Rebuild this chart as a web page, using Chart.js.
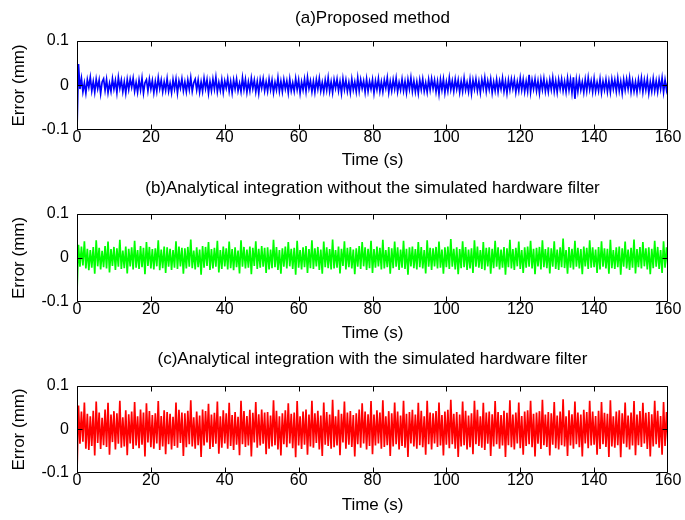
<!DOCTYPE html>
<html>
<head>
	<title>Error comparison</title>
	<meta charset="utf-8" />
	<!-- Chart.js -->
	<script src="https://cdn.jsdelivr.net/npm/chart.js@4.4.1/dist/chart.umd.min.js"></script>
	<style>
		body { margin: 0; background: #fff; }
		#parent { position: relative; width: 685px; height: 520px; }
		canvas { position: absolute; left: 0; }
	</style>
</head>
<body>

<div id="parent">
	<canvas id="chartA" width="685" height="173" style="top:0px"></canvas>
	<canvas id="chartB" width="685" height="173" style="top:173px"></canvas>
	<canvas id="chartC" width="685" height="173" style="top:345px"></canvas>
</div>

<script type="text/javascript">
// sample spacing of the error records (s)
var SAMPLE_DT = 0.4;

var xTicks = [0, 20, 40, 60, 80, 100, 120, 140, 160];
var yTicks = [-0.1, 0, 0.1];

var titles = [
	'(a)Proposed method',
	'(b)Analytical integration without the simulated hardware filter',
	'(c)Analytical integration with the simulated hardware filter'
];

// (a) proposed method, error in mm
var errProposed = [
	-0.100, 0.048, -0.008, 0.016, -0.014, 0.006, -0.017, 0.013, -0.004, 0.018, -0.012, 0.009, -0.015, 0.014, -0.007, 0.012, -0.018, 0.008, 0.015, -0.011,
	0.013, -0.016, 0.005, -0.013, 0.015, -0.008, 0.011, -0.016, 0.018, -0.006, 0.012, -0.014, 0.008, -0.017, 0.013, -0.009, 0.014, -0.004, 0.016, -0.013,
	0.007, -0.015, 0.012, -0.010, 0.016, -0.017, 0.006, 0.013, -0.012, 0.014, -0.008, 0.011, -0.016, 0.009, -0.013, 0.017, -0.007, 0.012, -0.014, 0.008,
	-0.011, 0.015, -0.013, 0.005, -0.016, 0.013, -0.008, 0.014, -0.017, 0.010, -0.006, 0.015, -0.012, 0.008, -0.014, 0.012, -0.009, 0.017, -0.013, 0.006,
	0.014, -0.010, 0.012, -0.015, 0.008, -0.013, 0.016, -0.007, 0.013, -0.017, 0.009, -0.012, 0.014, -0.008, 0.018, -0.014, 0.007, -0.011, 0.013, -0.015,
	0.010, -0.006, 0.015, -0.013, 0.009, -0.016, 0.012, -0.008, 0.014, -0.012, 0.005, -0.014, 0.017, -0.009, 0.013, -0.015, 0.008, -0.012, 0.016, -0.007,
	0.012, -0.014, 0.009, -0.017, 0.013, -0.006, 0.015, -0.012, 0.008, -0.013, 0.014, -0.009, 0.012, -0.016, 0.007, -0.010, 0.017, -0.013, 0.009, -0.014,
	0.013, -0.008, 0.010, -0.016, 0.014, -0.012, 0.006, -0.013, 0.015, -0.009, 0.012, -0.017, 0.008, -0.010, 0.014, -0.013, 0.018, -0.007, 0.010, -0.014,
	0.009, -0.015, 0.013, -0.008, 0.016, -0.012, 0.007, -0.014, 0.012, -0.010, 0.017, -0.013, 0.008, -0.016, 0.013, -0.006, 0.014, -0.012, 0.009, -0.017,
	0.015, -0.009, 0.012, -0.013, 0.007, -0.016, 0.014, -0.010, 0.008, -0.014, 0.017, -0.012, 0.013, -0.007, 0.010, -0.015, 0.014, -0.013, 0.009, -0.008,
	0.013, -0.017, 0.010, -0.009, 0.015, -0.013, 0.008, -0.014, 0.012, -0.006, 0.017, -0.015, 0.009, -0.012, 0.013, -0.008, 0.016, -0.014, 0.007, -0.010,
	0.014, -0.012, 0.009, -0.016, 0.013, -0.008, 0.017, -0.013, 0.010, -0.014, 0.008, -0.017, 0.012, -0.009, 0.014, -0.013, 0.006, -0.015, 0.013, -0.010,
	0.015, -0.007, 0.012, -0.014, 0.009, -0.019, 0.013, -0.010, 0.014, -0.016, 0.008, -0.012, 0.017, -0.009, 0.010, -0.013, 0.014, -0.008, 0.012, -0.015,
	0.009, -0.013, 0.016, -0.010, 0.007, -0.014, 0.013, -0.017, 0.012, -0.008, 0.014, -0.012, 0.009, -0.016, 0.013, -0.007, 0.017, -0.013, 0.010, -0.009,
	0.014, -0.016, 0.008, -0.012, 0.013, -0.014, 0.010, -0.008, 0.016, -0.013, 0.009, -0.017, 0.012, -0.010, 0.014, -0.007, 0.013, -0.015, 0.008, -0.012,
	0.016, -0.010, 0.013, -0.014, 0.009, -0.013, 0.024, -0.015, 0.012, -0.008, 0.014, -0.012, 0.010, -0.017, 0.013, -0.009, 0.015, -0.013, 0.008, -0.014,
	0.012, -0.009, 0.017, -0.013, 0.010, -0.015, 0.013, -0.008, 0.014, -0.012, 0.009, -0.014, 0.016, -0.010, 0.013, -0.016, 0.018, -0.030, 0.012, -0.013,
	0.014, -0.010, 0.008, -0.015, 0.013, -0.012, 0.017, -0.009, 0.010, -0.014, 0.015, -0.013, 0.007, -0.012, 0.014, -0.016, 0.009, -0.010, 0.013, -0.014,
	0.010, -0.015, 0.014, -0.008, 0.012, -0.013, 0.016, -0.012, 0.009, -0.017, 0.013, -0.010, 0.014, -0.008, 0.017, -0.014, 0.010, -0.013, 0.008, -0.015,
	0.013, -0.009, 0.016, -0.014, 0.012, -0.010, 0.014, -0.017, 0.008, -0.013, 0.015, -0.012, 0.010, -0.014, 0.013, -0.008, 0.017, -0.015, 0.012, -0.010, 0.009
];

// (b) analytical integration, no hardware filter
var errNoFilter = [
	-0.078, 0.030, -0.020, 0.026, -0.017, 0.038, -0.024, 0.021, -0.028, 0.018, -0.022, 0.025, -0.036, 0.040, -0.019, 0.023, -0.026, 0.016, -0.021, 0.027,
	-0.024, 0.037, -0.033, 0.020, -0.018, 0.025, -0.027, 0.022, -0.020, 0.041, -0.025, 0.017, -0.023, 0.026, -0.035, 0.021, -0.019, 0.024, -0.026, 0.039,
	-0.022, 0.018, -0.025, 0.027, -0.021, 0.023, -0.037, 0.036, -0.018, 0.025, -0.024, 0.020, -0.026, 0.022, -0.019, 0.040, -0.028, 0.019, -0.023, 0.026,
	-0.034, 0.024, -0.020, 0.021, -0.027, 0.018, -0.022, 0.038, -0.025, 0.026, -0.019, 0.023, -0.036, 0.022, -0.024, 0.025, -0.020, 0.042, -0.023, 0.017,
	-0.026, 0.024, -0.021, 0.019, -0.038, 0.027, -0.022, 0.025, -0.018, 0.036, -0.027, 0.020, -0.024, 0.023, -0.020, 0.039, -0.033, 0.018, -0.025, 0.026,
	-0.019, 0.022, -0.026, 0.037, -0.023, 0.020, -0.028, 0.024, -0.021, 0.017, -0.035, 0.040, -0.020, 0.025, -0.024, 0.019, -0.022, 0.026, -0.037, 0.023,
	-0.018, 0.038, -0.025, 0.021, -0.022, 0.027, -0.020, 0.023, -0.034, 0.024, -0.026, 0.019, -0.023, 0.041, -0.021, 0.025, -0.027, 0.018, -0.036, 0.022,
	-0.020, 0.026, -0.024, 0.036, -0.019, 0.021, -0.025, 0.023, -0.038, 0.039, -0.022, 0.018, -0.026, 0.024, -0.021, 0.027, -0.034, 0.020, -0.023, 0.040,
	-0.025, 0.022, -0.019, 0.025, -0.027, 0.019, -0.036, 0.037, -0.021, 0.024, -0.023, 0.020, -0.026, 0.042, -0.024, 0.018, -0.022, 0.026, -0.035, 0.021,
	-0.018, 0.038, -0.026, 0.023, -0.021, 0.025, -0.024, 0.019, -0.037, 0.022, -0.020, 0.027, -0.025, 0.036, -0.019, 0.024, -0.027, 0.021, -0.023, 0.039,
	-0.034, 0.020, -0.022, 0.026, -0.019, 0.023, -0.026, 0.041, -0.024, 0.018, -0.021, 0.025, -0.036, 0.022, -0.023, 0.037, -0.020, 0.024, -0.027, 0.019,
	-0.022, 0.039, -0.025, 0.021, -0.038, 0.024, -0.019, 0.026, -0.023, 0.020, -0.026, 0.036, -0.021, 0.025, -0.024, 0.018, -0.035, 0.040, -0.020, 0.023,
	-0.027, 0.022, -0.019, 0.025, -0.024, 0.037, -0.022, 0.019, -0.036, 0.024, -0.021, 0.026, -0.025, 0.043, -0.020, 0.021, -0.026, 0.024, -0.037, 0.020,
	-0.023, 0.038, -0.021, 0.025, -0.027, 0.019, -0.024, 0.022, -0.034, 0.040, -0.020, 0.026, -0.022, 0.018, -0.025, 0.036, -0.028, 0.023, -0.019, 0.024,
	-0.036, 0.021, -0.023, 0.039, -0.020, 0.024, -0.026, 0.019, -0.022, 0.025, -0.038, 0.022, -0.021, 0.041, -0.024, 0.020, -0.027, 0.023, -0.019, 0.037,
	-0.025, 0.018, -0.034, 0.024, -0.022, 0.026, -0.020, 0.039, -0.024, 0.021, -0.037, 0.023, -0.019, 0.025, -0.026, 0.040, -0.021, 0.020, -0.023, 0.024,
	-0.035, 0.022, -0.020, 0.038, -0.025, 0.019, -0.027, 0.024, -0.021, 0.044, -0.023, 0.018, -0.036, 0.025, -0.022, 0.021, -0.026, 0.039, -0.020, 0.023,
	-0.024, 0.020, -0.037, 0.026, -0.019, 0.023, -0.025, 0.040, -0.022, 0.024, -0.021, 0.019, -0.034, 0.025, -0.026, 0.038, -0.020, 0.022, -0.024, 0.021,
	-0.036, 0.041, -0.023, 0.018, -0.025, 0.024, -0.021, 0.026, -0.038, 0.022, -0.020, 0.037, -0.024, 0.019, -0.027, 0.023, -0.022, 0.042, -0.035, 0.020,
	-0.021, 0.025, -0.024, 0.036, -0.019, 0.022, -0.026, 0.024, -0.037, 0.021, -0.023, 0.039, -0.020, 0.025, -0.025, 0.018, -0.034, 0.038, -0.022, 0.024, -0.020
];

// (c) analytical integration, with hardware filter
var errFilter = [
	-0.100, 0.055, -0.033, 0.041, -0.028, 0.062, -0.044, 0.036, -0.047, 0.030, -0.038, 0.043, -0.060, 0.064, -0.031, 0.039, -0.045, 0.027, -0.036, 0.046,
	-0.040, 0.061, -0.058, 0.034, -0.029, 0.042, -0.046, 0.037, -0.033, 0.066, -0.042, 0.028, -0.039, 0.044, -0.059, 0.035, -0.032, 0.041, -0.045, 0.063,
	-0.037, 0.030, -0.043, 0.046, -0.035, 0.039, -0.062, 0.060, -0.030, 0.042, -0.041, 0.033, -0.044, 0.037, -0.032, 0.065, -0.047, 0.031, -0.039, 0.044,
	-0.057, 0.040, -0.034, 0.036, -0.046, 0.029, -0.038, 0.062, -0.042, 0.045, -0.031, 0.039, -0.061, 0.037, -0.041, 0.043, -0.034, 0.067, -0.039, 0.028,
	-0.044, 0.041, -0.036, 0.032, -0.063, 0.046, -0.037, 0.042, -0.030, 0.059, -0.045, 0.034, -0.040, 0.038, -0.033, 0.064, -0.056, 0.030, -0.042, 0.044,
	-0.032, 0.037, -0.044, 0.061, -0.038, 0.033, -0.047, 0.040, -0.035, 0.029, -0.059, 0.066, -0.034, 0.042, -0.040, 0.031, -0.037, 0.045, -0.062, 0.038,
	-0.030, 0.063, -0.042, 0.035, -0.037, 0.046, -0.033, 0.039, -0.057, 0.040, -0.044, 0.032, -0.039, 0.067, -0.036, 0.043, -0.046, 0.030, -0.060, 0.037,
	-0.034, 0.044, -0.041, 0.060, -0.032, 0.036, -0.043, 0.039, -0.064, 0.065, -0.037, 0.030, -0.045, 0.041, -0.035, 0.046, -0.058, 0.034, -0.039, 0.066,
	-0.042, 0.037, -0.031, 0.043, -0.046, 0.032, -0.061, 0.062, -0.035, 0.040, -0.038, 0.034, -0.044, 0.068, -0.041, 0.030, -0.037, 0.045, -0.059, 0.036,
	-0.030, 0.064, -0.044, 0.039, -0.035, 0.042, -0.040, 0.033, -0.062, 0.037, -0.034, 0.046, -0.042, 0.060, -0.032, 0.041, -0.046, 0.035, -0.038, 0.065,
	-0.057, 0.034, -0.037, 0.044, -0.032, 0.039, -0.044, 0.067, -0.040, 0.030, -0.036, 0.042, -0.061, 0.037, -0.039, 0.062, -0.034, 0.041, -0.046, 0.032,
	-0.038, 0.066, -0.042, 0.036, -0.063, 0.040, -0.032, 0.045, -0.039, 0.034, -0.044, 0.061, -0.036, 0.043, -0.041, 0.030, -0.058, 0.066, -0.034, 0.039,
	-0.046, 0.037, -0.032, 0.042, -0.040, 0.062, -0.037, 0.033, -0.060, 0.041, -0.035, 0.045, -0.043, 0.068, -0.034, 0.036, -0.044, 0.040, -0.063, 0.034,
	-0.039, 0.064, -0.036, 0.043, -0.046, 0.032, -0.041, 0.037, -0.057, 0.066, -0.034, 0.045, -0.038, 0.030, -0.042, 0.061, -0.047, 0.039, -0.033, 0.041,
	-0.061, 0.035, -0.039, 0.065, -0.034, 0.040, -0.044, 0.033, -0.037, 0.043, -0.063, 0.038, -0.036, 0.067, -0.041, 0.034, -0.046, 0.039, -0.032, 0.062,
	-0.043, 0.031, -0.058, 0.041, -0.038, 0.044, -0.034, 0.066, -0.041, 0.036, -0.062, 0.039, -0.033, 0.042, -0.045, 0.068, -0.036, 0.034, -0.040, 0.040,
	-0.060, 0.037, -0.035, 0.063, -0.043, 0.032, -0.046, 0.041, -0.036, 0.069, -0.039, 0.030, -0.061, 0.044, -0.037, 0.035, -0.044, 0.064, -0.034, 0.039,
	-0.041, 0.034, -0.062, 0.045, -0.032, 0.040, -0.043, 0.066, -0.037, 0.041, -0.035, 0.031, -0.058, 0.043, -0.045, 0.063, -0.034, 0.038, -0.040, 0.036,
	-0.063, 0.067, -0.039, 0.030, -0.042, 0.041, -0.036, 0.044, -0.064, 0.037, -0.033, 0.062, -0.041, 0.032, -0.046, 0.039, -0.037, 0.065, -0.059, 0.034,
	-0.036, 0.042, -0.040, 0.061, -0.032, 0.038, -0.045, 0.040, -0.062, 0.035, -0.039, 0.066, -0.034, 0.043, -0.042, 0.031, -0.058, 0.063, -0.038, 0.040, -0.035
];

var FONT = 'Liberation Sans, Arial, Helvetica, sans-serif';

// box round the axes plus inward tick marks (matlab look)
var matlabBox = {
	id: 'matlabBox',
	afterDraw: function (chart) {
		var ctx = chart.ctx, a = chart.chartArea;
		var xs = chart.scales.x, ys = chart.scales.y;
		var L = Math.round(a.left) + 0.5, R = Math.round(a.right) - 0.5;
		var T = Math.round(a.top) + 0.5, B = Math.round(a.bottom) - 0.5;
		ctx.save();
		ctx.strokeStyle = '#000';
		ctx.lineWidth = 1;
		ctx.beginPath();
		ctx.moveTo(L, T); ctx.lineTo(R, T);
		ctx.moveTo(R, T); ctx.lineTo(R, B);
		ctx.moveTo(R, B); ctx.lineTo(L, B);
		ctx.moveTo(L, B); ctx.lineTo(L, T);
		xTicks.forEach(function (t) {
			var px = Math.min(R, Math.round(xs.getPixelForValue(t)) + 0.5);
			ctx.moveTo(px, T); ctx.lineTo(px, T + 5);
			ctx.moveTo(px, B); ctx.lineTo(px, B - 5);
		});
		yTicks.forEach(function (t) {
			var py = Math.min(B, Math.round(ys.getPixelForValue(t)) + 0.5);
			ctx.moveTo(L, py); ctx.lineTo(L + 5, py);
			ctx.moveTo(R, py); ctx.lineTo(R - 5, py);
		});
		ctx.stroke();
		ctx.restore();
	}
};

function makePanel(id, title, values, color, xAxisHeight, titlePad) {
	var pts = values.map(function (v, i) { return {x: i * SAMPLE_DT, y: v}; });
	return new Chart(document.getElementById(id), {
		type: 'line',
		data: {
			datasets: [{
				data: pts,
				borderColor: color,
				borderWidth: 1.7,
				pointRadius: 0,
				tension: 0,
				fill: false
			}]
		},
		options: {
			responsive: false,
			animation: false,
			devicePixelRatio: 1,
			events: [],
			layout: { padding: { left: 0, right: 17, top: 0, bottom: 0 } },
			plugins: {
				legend: { display: false },
				tooltip: { enabled: false },
				title: {
					display: true,
					text: title,
					fullSize: false,
					color: '#000',
					font: { family: FONT, size: 17, weight: 'normal' },
					padding: titlePad
				}
			},
			scales: {
				x: {
					type: 'linear',
					min: 0,
					max: 160,
					afterBuildTicks: function (s) { s.ticks = xTicks.map(function (v) { return {value: v}; }); },
					afterFit: function (s) { s.height = xAxisHeight; },
					grid: { display: false, drawTicks: false },
					border: { display: false },
					ticks: { color: '#000', padding: 0, maxRotation: 0, font: { family: FONT, size: 16, lineHeight: 1 } },
					title: {
						display: true,
						text: 'Time (s)',
						color: '#000',
						font: { family: FONT, size: 17 },
						padding: { top: 0, bottom: 2 }
					}
				},
				y: {
					min: -0.1,
					max: 0.1,
					afterBuildTicks: function (s) { s.ticks = yTicks.map(function (v) { return {value: v}; }); },
					afterFit: function (s) { s.width = 77; },
					grid: { display: false, drawTicks: false },
					border: { display: false },
					ticks: {
						color: '#000',
						padding: 8,
						font: { family: FONT, size: 16 },
						callback: function (v) { return String(Math.round(v * 10) / 10); }
					},
					title: {
						display: true,
						text: 'Error (mm)',
						color: '#000',
						font: { family: FONT, size: 17 },
						padding: { top: 9, bottom: 0 }
					}
				}
			}
		},
		plugins: [matlabBox]
	});
}

var chartA = makePanel('chartA', titles[0], errProposed, '#0000ff', 43, { top: 8.5, bottom: 12 });
var chartB = makePanel('chartB', titles[1], errNoFilter, '#00ff00', 44, { top: 5.5, bottom: 15 });
var chartC = makePanel('chartC', titles[2], errFilter, '#ff0000', 45, { top: 4, bottom: 16.5 });
</script>
</body>
</html>
